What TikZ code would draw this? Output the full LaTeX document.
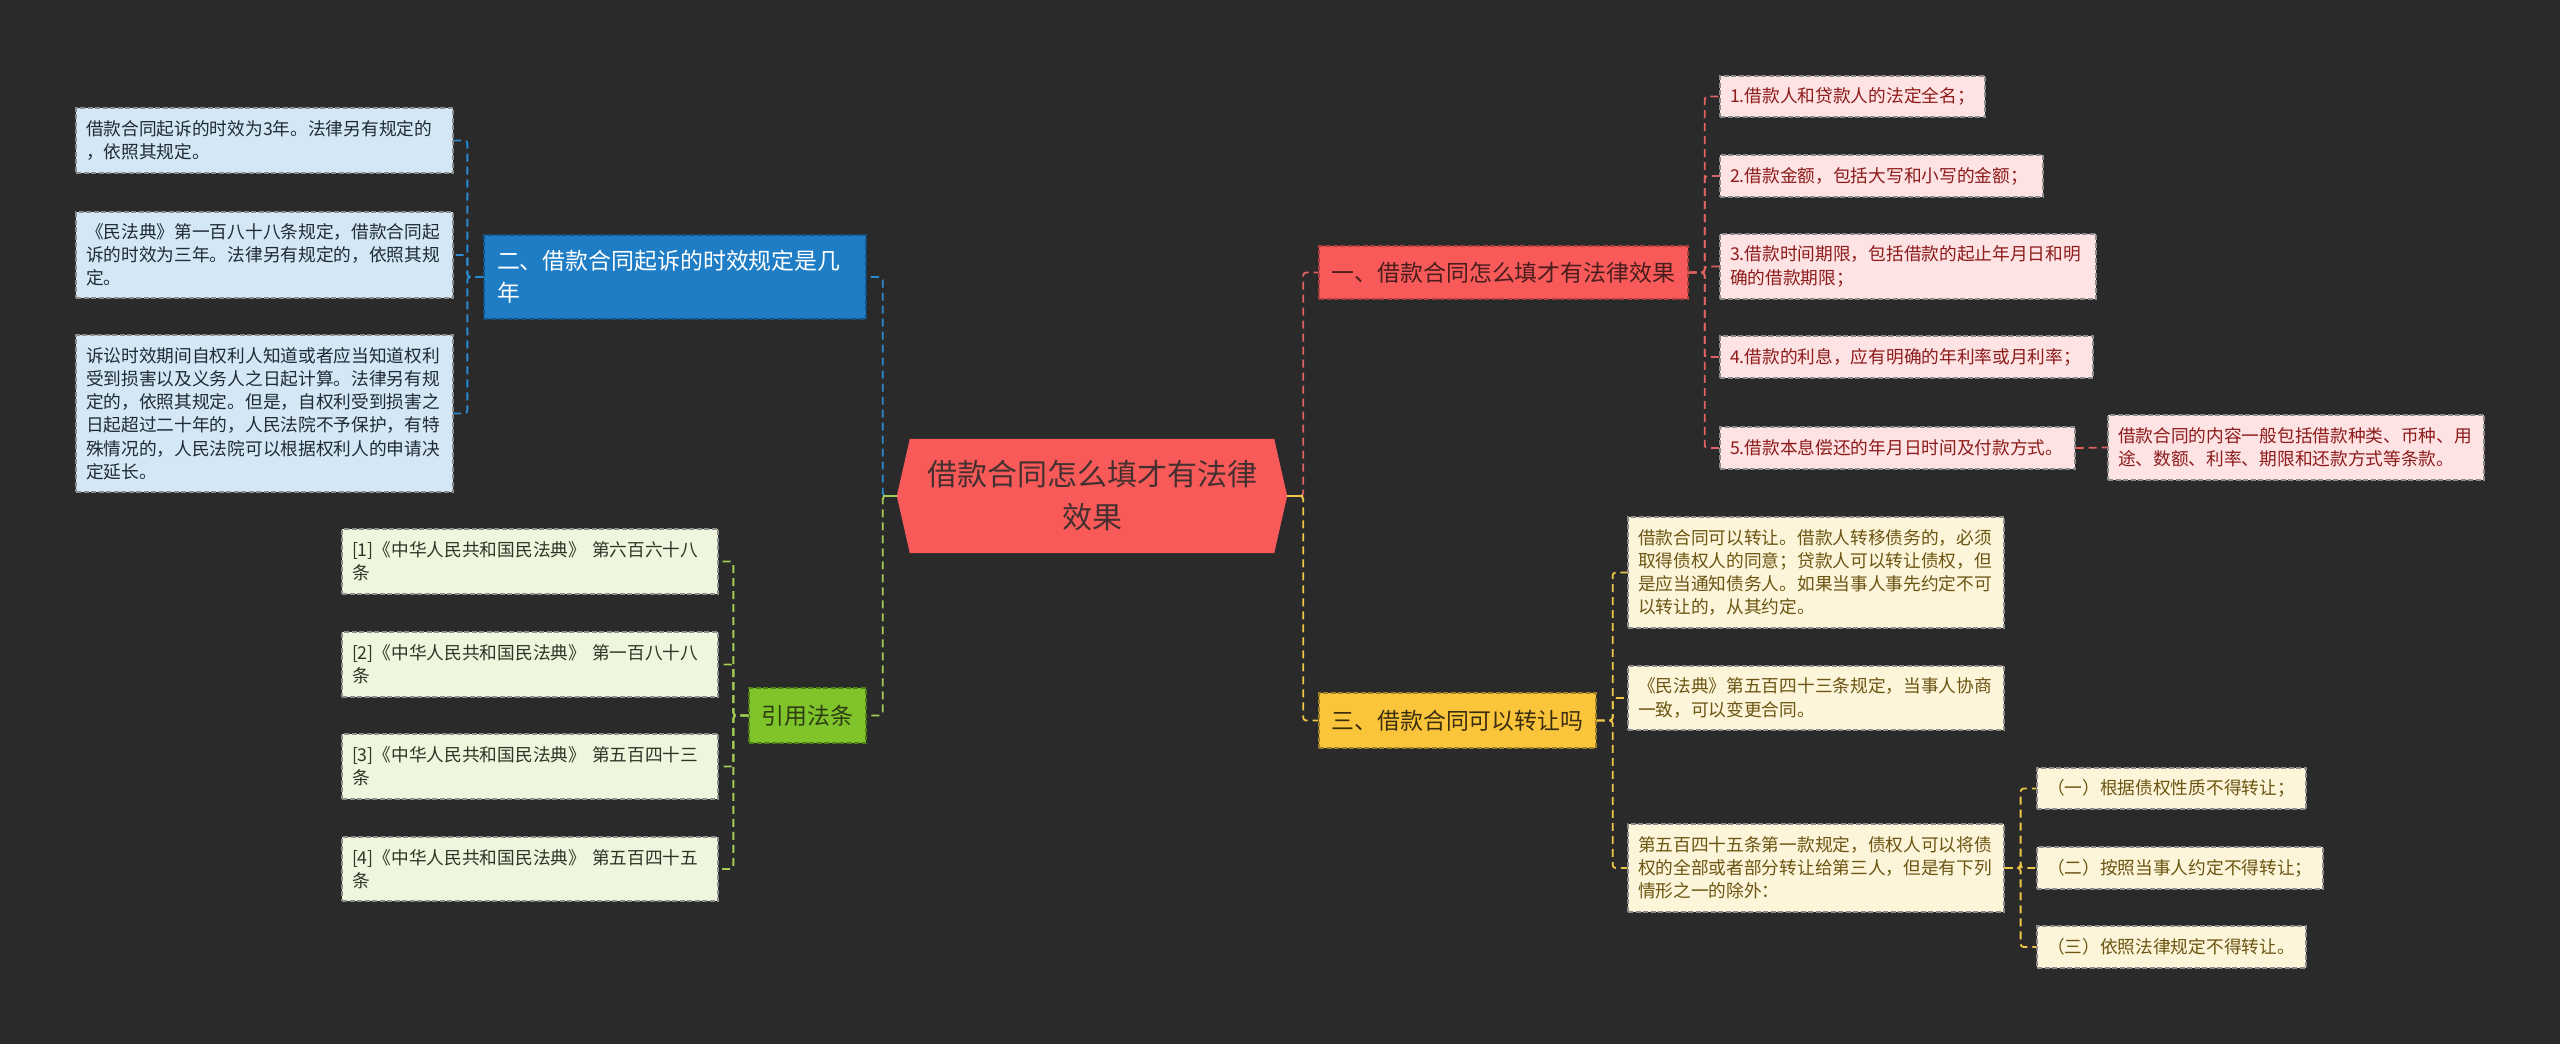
\documentclass[tikz,border=0pt]{standalone}
\usepackage{fontspec}
\newfontfamily\cjk{Noto Sans CJK SC}
\definecolor{bgc}{HTML}{2A2A2A}
\definecolor{redmain}{HTML}{F85A5A}
\definecolor{redtxt}{HTML}{4A1D1D}
\definecolor{redln}{HTML}{E06262}
\definecolor{redleaf}{HTML}{FDE3E3}
\definecolor{redleaftxt}{HTML}{8E1B1B}
\definecolor{bluemain}{HTML}{1E7DC5}
\definecolor{blueln}{HTML}{2A8AD2}
\definecolor{blueleaf}{HTML}{D3E7F5}
\definecolor{blueleaftxt}{HTML}{1F2A36}
\definecolor{yelmain}{HTML}{FBC53B}
\definecolor{yeltxt}{HTML}{3B2E0F}
\definecolor{yelln}{HTML}{F0C648}
\definecolor{yelleaf}{HTML}{FDF5DA}
\definecolor{yelleaftxt}{HTML}{6B5512}
\definecolor{grnmain}{HTML}{7FC42A}
\definecolor{grntxt}{HTML}{2E3C12}
\definecolor{grnln}{HTML}{A3CC55}
\definecolor{grnleaf}{HTML}{EFF6DE}
\definecolor{grnleaftxt}{HTML}{2F3526}
\definecolor{ctrtxt}{HTML}{452F2F}
\pgfdeclarelayer{bglayer}
\pgfsetlayers{bglayer,main}
\tikzset{
  conn/.style={line width=1.8pt, dash pattern=on 8pt off 5pt, rounded corners=3pt},
  cred/.style={conn, draw=redln},
  cblue/.style={conn, draw=blueln},
  cyel/.style={conn, draw=yelln},
  cgrn/.style={conn, draw=grnln},
  leaf/.style={draw=black!45, dash pattern=on 5pt off 2.5pt, line width=1.2pt,
    inner xsep=10pt, inner ysep=0pt, align=left,
    font=\cjk\fontsize{17.7pt}{23.2pt}\selectfont},
  mainbox/.style={dash pattern=on 5pt off 2.5pt, line width=1.3pt, inner sep=0pt,
    align=center, font=\cjk\fontsize{22.9pt}{32pt}\selectfont},
  bleaf/.style={leaf, fill=blueleaf, text=blueleaftxt, text width=357pt},
  rleaf/.style={leaf, fill=redleaf, text=redleaftxt},
  yleaf/.style={leaf, fill=yelleaf, text=yelleaftxt},
  gleaf/.style={leaf, fill=grnleaf, text=grnleaftxt, text width=356pt},
}
\begin{document}
\begin{tikzpicture}[x=1pt,y=-1pt]
\useasboundingbox (0,0) rectangle (2560,1044);

% central node
\node[inner sep=0pt, minimum width=390pt, minimum height=114pt, align=center,
  text=ctrtxt, font=\cjk\fontsize{30pt}{43pt}\selectfont] (c) at (1092,496)
  {借款合同怎么填才有法律\\效果};

% main branches
\node[mainbox, fill=redmain, draw=redmain!70!black, text=redtxt,
  minimum width=369pt, minimum height=53pt] (n1) at (1503.5,272.5)
  {一、借款合同怎么填才有法律效果};
\node[mainbox, fill=bluemain, draw=bluemain!65!black, text=white, align=left,
  inner xsep=13pt, text width=356pt, minimum height=84pt] (n2) at (675,277)
  {二、借款合同起诉的时效规定是几\\年};
\node[mainbox, fill=yelmain, draw=yelmain!65!black, text=yeltxt,
  minimum width=277pt, minimum height=55pt] (n3) at (1457.5,720.5)
  {三、借款合同可以转让吗};
\node[mainbox, fill=grnmain, draw=grnmain!65!black, text=grntxt,
  minimum width=117pt, minimum height=55pt] (g) at (807.5,715.5)
  {引用法条};

% blue leaves
\node[bleaf, minimum height=65pt] (b1) at (264.5,140.5)
  {借款合同起诉的时效为3年。法律另有规定的\\，依照其规定。};
\node[bleaf, minimum height=86pt] (b2) at (264.5,255)
  {《民法典》第一百八十八条规定，借款合同起\\诉的时效为三年。法律另有规定的，依照其规\\定。};
\node[bleaf, minimum height=157pt] (b3) at (264.5,413.5)
  {诉讼时效期间自权利人知道或者应当知道权利\\受到损害以及义务人之日起计算。法律另有规\\定的，依照其规定。但是，自权利受到损害之\\日起超过二十年的，人民法院不予保护，有特\\殊情况的，人民法院可以根据权利人的申请决\\定延长。};

% red leaves
\node[rleaf, text width=245pt, minimum height=41pt] (r1) at (1852.5,96.5)
  {1.借款人和贷款人的法定全名；};
\node[rleaf, text width=303pt, minimum height=42pt] (r2) at (1881.5,176)
  {2.借款金额，包括大写和小写的金额；};
\node[rleaf, text width=356pt, minimum height=65pt] (r3) at (1908,266.5)
  {3.借款时间期限，包括借款的起止年月日和明\\确的借款期限；};
\node[rleaf, text width=353pt, minimum height=42pt] (r4) at (1906.5,357)
  {4.借款的利息，应有明确的年利率或月利率；};
\node[rleaf, text width=335pt, minimum height=42pt] (r5) at (1897.5,448)
  {5.借款本息偿还的年月日时间及付款方式。};
\node[rleaf, text width=356pt, minimum height=65pt] (r6) at (2296,447.5)
  {借款合同的内容一般包括借款种类、币种、用\\途、数额、利率、期限和还款方式等条款。};

% yellow leaves
\node[yleaf, text width=356pt, minimum height=111pt] (y1) at (1816,572.5)
  {借款合同可以转让。借款人转移债务的，必须\\取得债权人的同意；贷款人可以转让债权，但\\是应当通知债务人。如果当事人事先约定不可\\以转让的，从其约定。};
\node[yleaf, text width=356pt, minimum height=64pt] (y2) at (1816,698)
  {《民法典》第五百四十三条规定，当事人协商\\一致，可以变更合同。};
\node[yleaf, text width=356pt, minimum height=88pt] (y3) at (1816,868)
  {第五百四十五条第一款规定，债权人可以将债\\权的全部或者部分转让给第三人，但是有下列\\情形之一的除外：};
\node[yleaf, text width=249pt, minimum height=41pt] (s1) at (2171.5,788.5)
  {（一）根据债权性质不得转让；};
\node[yleaf, text width=266pt, minimum height=42pt] (s2) at (2180,868)
  {（二）按照当事人约定不得转让；};
\node[yleaf, text width=249pt, minimum height=42pt] (s3) at (2171.5,947)
  {（三）依照法律规定不得转让。};

% green leaves
\node[gleaf, minimum height=65pt] (g1) at (530,561.5)
  {[1]《中华人民共和国民法典》 第六百六十八\\条};
\node[gleaf, minimum height=65pt] (g2) at (530,664.5)
  {[2]《中华人民共和国民法典》 第一百八十八\\条};
\node[gleaf, minimum height=65pt] (g3) at (530,766.5)
  {[3]《中华人民共和国民法典》 第五百四十三\\条};
\node[gleaf, minimum height=64pt] (g4) at (530,869)
  {[4]《中华人民共和国民法典》 第五百四十五\\条};

% background and hexagon
\begin{pgfonlayer}{bglayer}
  \fill[bgc] (0,0) rectangle (2560,1044);
  \fill[redmain] ([xshift=13pt]c.north west) -- ([xshift=-13pt]c.north east)
    -- (c.east) -- ([xshift=-13pt]c.south east) -- ([xshift=13pt]c.south west)
    -- (c.west) -- cycle;
\end{pgfonlayer}

% connectors from centre
\draw[cblue] (c.west) -- ++(-14,0) |- (n2.east);
\draw[cgrn] (c.west) -- ++(-14,0) |- (g.east);
\draw[grnln, line width=1.8pt] (c.west) -- ++(-14,0);
\draw[cred] (c.east) -- ++(16,0) |- (n1.west);
\draw[cyel] (c.east) -- ++(16,0) |- (n3.west);
\draw[yelln, line width=1.8pt] (c.east) -- ++(16,0);

% second level
\foreach \t in {b1,b2,b3} \draw[cblue] (n2.west) -- ++(-16,0) |- (\t.east);
\foreach \t in {r1,r2,r3,r4,r5} \draw[cred] (n1.east) -- ++(16,0) |- (\t.west);
\draw[cred] (r5.east) -- (r6.west);
\foreach \t in {y1,y2,y3} \draw[cyel] (n3.east) -- ++(16,0) |- (\t.west);
\foreach \t in {s1,s2,s3} \draw[cyel] (y3.east) -- ++(16,0) |- (\t.west);
\foreach \t in {g1,g2,g3,g4} \draw[cgrn] (g.west) -- ++(-15,0) |- (\t.east);
\end{tikzpicture}
\end{document}
